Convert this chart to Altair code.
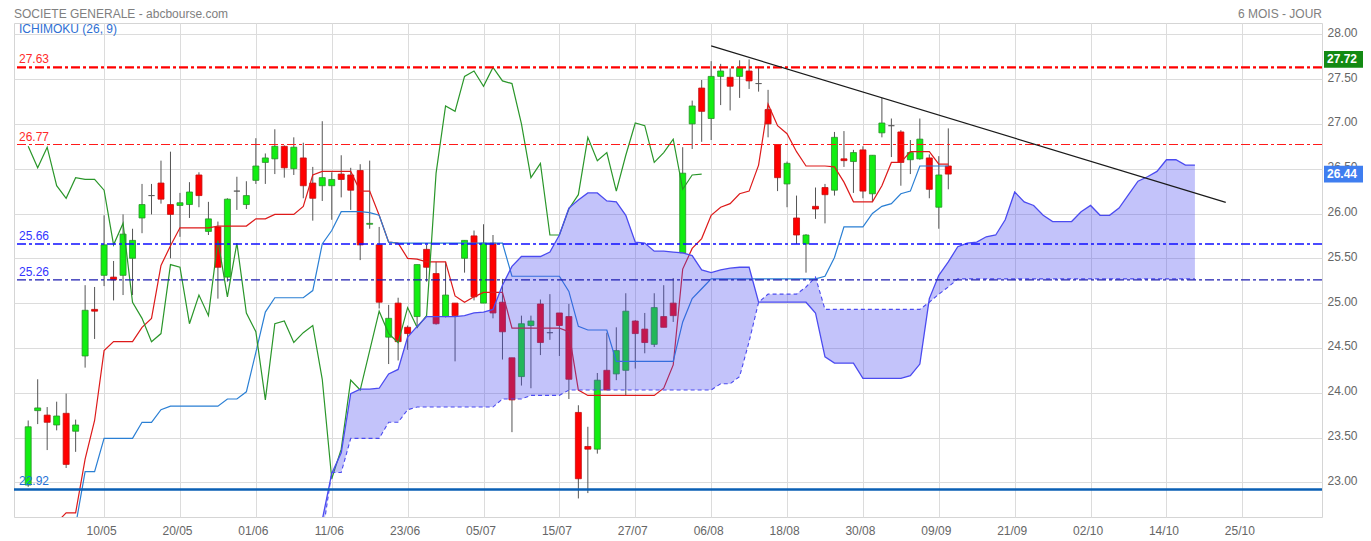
import altair as alt
import pandas as pd

# ---------------- data ----------------
# trading-day index 0..97 (first candle ~28/04, last 10/09)
opens = [22.97, 23.80, 23.75, 23.64, 23.77, 23.57, 24.41, 24.93, 25.31, 25.29,
         25.31, 25.50, 25.95, 26.20, 26.34, 26.10, 26.09, 26.10, 26.43, 25.80,
         25.85, 25.29, 26.25, 26.10, 26.37, 26.57, 26.61, 26.75, 26.50, 26.62,
         26.34, 26.31, 26.31, 26.44, 26.43, 26.48, 25.88, 25.65, 24.62, 25.00,
         24.73, 24.85, 25.60, 25.33, 24.85, 25.00, 25.50, 25.75, 25.00, 25.67,
         25.01, 24.39, 24.18, 24.75, 24.99, 24.67, 24.89, 24.85, 23.78, 23.40,
         23.37, 24.25, 24.21, 24.25, 24.80, 24.71, 24.54, 24.85, 25.00, 25.56,
         27.00, 27.40, 27.06, 27.53, 27.52, 27.53, 27.59, 27.45, 27.16, 26.77,
         26.33, 25.95, 25.66, 26.08, 26.29, 26.26, 26.61, 26.58, 26.71, 26.22,
         26.90, 26.98, 26.91, 26.60, 26.61, 26.62, 26.07, 26.53]
highs = [23.69, 24.15, 23.84, 23.90, 23.99, 23.70, 25.20, 25.18, 25.98, 25.47,
         25.99, 25.83, 26.33, 26.33, 26.59, 26.69, 26.23, 26.35, 26.46, 26.13,
         25.91, 26.17, 26.41, 26.36, 26.84, 26.67, 26.94, 26.76, 26.85, 26.79,
         26.52, 27.03, 26.46, 26.65, 26.51, 26.55, 26.59, 25.85, 24.98, 25.06,
         24.75, 25.43, 25.65, 25.46, 25.46, 25.00, 25.70, 25.81, 25.88, 25.76,
         25.27, 24.39, 24.86, 24.86, 25.04, 25.10, 24.89, 24.99, 23.86, 23.62,
         24.22, 24.67, 24.73, 25.11, 24.81, 24.89, 25.11, 25.20, 25.28, 26.74,
         27.26, 27.49, 27.70, 27.67, 27.62, 27.71, 27.72, 27.64, 27.38, 26.77,
         26.58, 26.20, 25.77, 26.29, 26.33, 26.91, 26.92, 26.71, 26.75, 26.65,
         27.29, 27.06, 26.93, 26.82, 27.06, 26.66, 26.64, 26.95]
lows = [22.95, 23.65, 23.36, 23.58, 23.16, 23.34, 24.28, 24.60, 25.19, 25.03,
        25.09, 25.09, 25.78, 25.99, 26.11, 25.50, 25.74, 25.95, 26.07, 25.76,
        25.05, 25.24, 26.04, 26.05, 26.33, 26.33, 26.44, 26.40, 26.43, 26.17,
        25.92, 26.14, 25.93, 26.18, 26.04, 25.48, 25.83, 24.94, 24.32, 24.36,
        24.48, 24.72, 25.24, 24.76, 24.84, 24.35, 25.34, 25.03, 25.00, 24.83,
        24.37, 23.56, 24.08, 24.05, 24.42, 24.59, 24.41, 23.93, 22.82, 22.88,
        23.32, 24.03, 24.14, 23.97, 24.27, 24.44, 24.51, 24.73, 24.79, 25.56,
        26.72, 26.80, 26.82, 27.21, 27.15, 27.29, 27.39, 27.36, 26.85, 26.25,
        26.07, 25.66, 25.34, 25.94, 25.89, 26.20, 26.52, 26.23, 26.17, 26.13,
        26.85, 26.63, 26.31, 26.44, 26.60, 26.17, 25.83, 26.27]
closes = [23.62, 23.83, 23.67, 23.74, 23.20, 23.64, 24.92, 24.91, 25.65, 25.26,
          25.77, 25.70, 26.10, 26.20, 26.16, 25.99, 26.12, 26.24, 26.20, 25.94,
          25.40, 26.16, 26.25, 26.20, 26.53, 26.62, 26.75, 26.51, 26.74, 26.31,
          26.17, 26.40, 26.38, 26.38, 26.26, 25.65, 25.89, 25.01, 24.83, 24.57,
          24.66, 25.43, 25.40, 24.77, 25.09, 24.86, 25.70, 25.07, 25.67, 24.89,
          24.68, 23.92, 24.77, 24.80, 24.56, 24.67, 24.75, 24.15, 23.04, 23.37,
          24.14, 24.03, 24.47, 24.91, 24.66, 24.56, 24.95, 24.73, 24.86, 26.45,
          27.20, 27.14, 27.53, 27.59, 27.42, 27.63, 27.48, 27.45, 27.00, 26.40,
          26.56, 25.76, 25.76, 26.05, 26.21, 26.85, 26.59, 26.68, 26.25, 26.65,
          27.01, 26.98, 26.57, 26.68, 26.83, 26.27, 26.43, 26.44]

tenkan = [22.40, 22.45, 22.50, 22.55, 22.66, 22.66, 23.26, 23.69, 24.47, 24.57,
          24.57, 24.57, 24.73, 24.83, 25.42, 25.64, 25.84, 25.84, 25.84, 25.84,
          25.86, 25.86, 25.86, 25.86, 25.94, 25.94, 25.99, 25.99, 25.99, 26.08,
          26.43, 26.47, 26.47, 26.47, 26.47, 26.25, 26.25, 25.98, 25.68, 25.67,
          25.50, 25.49, 25.46, 25.46, 25.46, 25.08, 25.01, 25.07, 25.12, 25.12,
          25.12, 24.72, 24.72, 24.72, 24.72, 24.72, 24.72, 24.68, 24.03, 23.97,
          23.97, 23.97, 23.97, 23.97, 23.97, 23.97, 23.97, 24.05, 24.31, 25.38,
          25.61, 25.72, 25.98, 26.07, 26.11, 26.22, 26.25, 26.54, 27.22, 26.98,
          26.89, 26.69, 26.53, 26.53, 26.53, 26.52, 26.35, 26.13, 26.13, 26.13,
          26.31, 26.57, 26.57, 26.69, 26.69, 26.69, 26.55, 26.55]
kijun = [22.30, 22.30, 22.30, 22.35, 22.42, 22.52, 23.12, 23.12, 23.49, 23.49,
         23.49, 23.49, 23.67, 23.67, 23.81, 23.85, 23.85, 23.85, 23.85, 23.85,
         23.85, 23.93, 23.93, 24.01, 24.45, 24.90, 25.06, 25.06, 25.06, 25.06,
         25.14, 25.66, 25.81, 26.02, 26.02, 26.02, 26.01, 25.98, 25.68, 25.67,
         25.67, 25.67, 25.67, 25.67, 25.67, 25.67, 25.67, 25.67, 25.67, 25.67,
         25.67, 25.30, 25.30, 25.30, 25.30, 25.30, 25.30, 25.13, 24.74, 24.70,
         24.70, 24.70, 24.35, 24.35, 24.35, 24.35, 24.35, 24.35, 24.35, 24.79,
         25.05, 25.16, 25.27, 25.27, 25.27, 25.27, 25.27, 25.27, 25.27, 25.27,
         25.27, 25.27, 25.27, 25.27, 25.30, 25.51, 25.85, 25.85, 25.85, 26.00,
         26.08, 26.11, 26.22, 26.25, 26.53, 26.53, 26.53, 26.53]

CLOUD_START = 30  # first index of the senkou arrays
senkou_a = [22.30, 22.58, 23.10, 23.33, 23.99, 24.04, 24.04, 24.05, 24.21, 24.26,
            24.62, 24.74, 24.85, 24.85, 24.85, 24.85, 24.86, 24.89, 24.90, 24.93,
            25.20, 25.41, 25.52, 25.52, 25.52, 25.57, 25.76, 26.06, 26.15, 26.23,
            26.23, 26.14, 26.13, 25.98, 25.68, 25.67, 25.58, 25.58, 25.57, 25.56,
            25.53, 25.37, 25.34, 25.37, 25.39, 25.40, 25.40, 25.01, 25.01, 25.01,
            25.01, 25.01, 25.01, 24.89, 24.40, 24.33, 24.33, 24.33, 24.16, 24.16,
            24.16, 24.16, 24.16, 24.19, 24.32, 25.05, 25.31, 25.46, 25.63, 25.67,
            25.68, 25.74, 25.76, 25.93, 26.24, 26.13, 26.09, 25.98, 25.91, 25.91,
            25.91, 26.02, 26.09, 25.98, 25.98, 26.06, 26.21, 26.36, 26.41, 26.47,
            26.60, 26.60, 26.54, 26.54]
senkou_b = [22.30, 22.40, 23.11, 23.11, 23.49, 23.49, 23.49, 23.49, 23.67, 23.67,
            23.81, 23.84, 23.84, 23.84, 23.84, 23.84, 23.84, 23.84, 23.84, 23.84,
            23.93, 23.93, 23.93, 23.97, 23.97, 23.97, 23.97, 24.03, 24.03, 24.03,
            24.03, 24.03, 24.03, 24.03, 24.03, 24.03, 24.03, 24.03, 24.03, 24.03,
            24.03, 24.03, 24.03, 24.10, 24.10, 24.18, 24.57, 25.01, 25.10, 25.10,
            25.10, 25.10, 25.18, 25.29, 24.93, 24.93, 24.93, 24.93, 24.93, 24.93,
            24.93, 24.93, 24.93, 24.93, 24.93, 25.01, 25.10, 25.18, 25.27, 25.27,
            25.27, 25.27, 25.27, 25.27, 25.27, 25.27, 25.27, 25.27, 25.27, 25.27,
            25.27, 25.27, 25.27, 25.27, 25.27, 25.27, 25.27, 25.27, 25.27, 25.27,
            25.27, 25.27, 25.27, 25.27]

date_ticks = [8, 16, 24, 32, 40, 48, 56, 64, 72, 80, 88, 96, 104, 112, 120, 128]
date_labels = ["10/05", "20/05", "01/06", "11/06", "23/06", "05/07", "15/07", "27/07",
               "06/08", "18/08", "30/08", "09/09", "21/09", "02/10", "14/10", "25/10"]
price_ticks = [23.0, 23.5, 24.0, 24.5, 25.0, 25.5, 26.0, 26.5, 27.0, 27.5, 28.0]

levels = [27.63, 26.77, 25.66, 25.26, 22.92]
level_labels = ["27.63", "26.77", "25.66", "25.26", "22.92"]

trend_i = [72.0, 126.25]
trend_v = [27.87, 26.125]

badge_values = [27.72, 26.44]
badge_labels = ["27.72", "26.44"]

title_left = "SOCIETE GENERALE - abcbourse.com"
title_right = "6 MOIS - JOUR"
indicator_label = "ICHIMOKU (26, 9)"

# ---------------- styles ----------------
level_colors = ["#ff0000", "#ff1a1a", "#0f0fff", "#1c1cb0", "#0a5fb4"]
level_widths = [2.2, 1.2, 1.6, 1.2, 2.6]
level_dashes = [[9, 3, 3, 3], [9, 3, 3, 3], [9, 3, 3, 3], [9, 3, 3, 3], None]
label_colors = ["#ff2a2a", "#ff2a2a", "#3434ff", "#3434ff", "#1f72d6"]
badge_colors = ["#138a13", "#3f7ef0"]
FONT = "Liberation Sans"

# ---------------- frames ----------------
N = len(closes)
idx = list(range(N))
candles = pd.DataFrame({"i": idx, "o": opens, "h": highs, "l": lows, "c": closes})
candles["dir"] = ["flat" if abs(o - c) < 0.005 else ("up" if c > o else "down")
                  for o, c in zip(opens, closes)]
ichi = pd.DataFrame({"i": idx, "tenkan": tenkan, "kijun": kijun})
chikou = pd.DataFrame({"i": idx[:N - 26], "v": closes[26:]})
cloud = pd.DataFrame({"i": list(range(CLOUD_START, CLOUD_START + len(senkou_a))),
                      "a": senkou_a, "b": senkou_b})
trend = pd.DataFrame({"i": trend_i, "v": trend_v})
lev = pd.DataFrame({"v": levels, "t": level_labels, "col": label_colors})
badges = pd.DataFrame({"v": badge_values, "t": badge_labels, "col": badge_colors})

xs = alt.Scale(domain=[-0.97, 135.87], nice=False, zero=False)
ys = alt.Scale(domain=[22.613, 28.126], nice=False, zero=False)

label_expr = "[" + ",".join("'%s'" % s for s in date_labels) + "][round(datum.value/8)-1]"
x_axis = alt.Axis(values=date_ticks, labelExpr=label_expr, grid=True, gridColor="#dcdcdc",
                  gridWidth=1, ticks=False, domain=False, labelColor="#666666",
                  labelFont=FONT, labelFontSize=12, labelPadding=8, labelOffset=-3,
                  title=None)
y_axis = alt.Axis(orient="right", values=price_ticks, format=".2f", grid=True,
                  gridColor="#dcdcdc", gridWidth=1, ticks=False, domain=False,
                  labelColor="#666666", labelFont=FONT, labelFontSize=12,
                  labelPadding=5, labelBaseline="middle", labelOffset=-2, title=None,
                  zindex=0)


def X(f):
    return alt.X(f, scale=xs, axis=x_axis)


def Y(f):
    return alt.Y(f, scale=ys, axis=y_axis)


wicks = alt.Chart(candles).mark_rule(color="#555555", strokeWidth=1, clip=True).encode(
    x=X("i:Q"), y=Y("l:Q"), y2="h:Q")

bodies = alt.Chart(candles).mark_bar(size=6, strokeWidth=0.8, clip=True).encode(
    x=X("i:Q"), y=Y("o:Q"), y2="c:Q",
    fill=alt.Fill("dir:N", scale=alt.Scale(domain=["up", "down", "flat"],
                                           range=["#11ee11", "#ff0000", "#555555"]),
                  legend=None),
    stroke=alt.Stroke("dir:N", scale=alt.Scale(domain=["up", "down", "flat"],
                                               range=["#2b8f2b", "#c21010", "#555555"]),
                      legend=None))

tenkan_line = alt.Chart(ichi).mark_line(color="#dd1a1a", strokeWidth=1.2, clip=True).encode(
    x=X("i:Q"), y=Y("tenkan:Q"))
kijun_line = alt.Chart(ichi).mark_line(color="#2a7fd4", strokeWidth=1.2, clip=True).encode(
    x=X("i:Q"), y=Y("kijun:Q"))
chikou_line = alt.Chart(chikou).mark_line(color="#2a962a", strokeWidth=1.2, clip=True).encode(
    x=X("i:Q"), y=Y("v:Q"))

cloud_area = alt.Chart(cloud).mark_area(color="#4848f0", opacity=0.33, clip=True).encode(
    x=X("i:Q"), y=Y("a:Q"), y2="b:Q")
span_a = alt.Chart(cloud).mark_line(color="#4b4bf0", strokeWidth=1.3, clip=True).encode(
    x=X("i:Q"), y=Y("a:Q"))
span_b = alt.Chart(cloud).mark_line(color="#4b4bf0", strokeWidth=1.1, strokeDash=[4, 3],
                                    clip=True).encode(x=X("i:Q"), y=Y("b:Q"))

level_rules = []
for k, lv in enumerate(levels):
    kw = dict(color=level_colors[k], strokeWidth=level_widths[k])
    if level_dashes[k]:
        kw["strokeDash"] = level_dashes[k]
    level_rules.append(
        alt.Chart(pd.DataFrame({"v": [lv]})).mark_rule(**kw).encode(y=Y("v:Q")))

trend_line = alt.Chart(trend).mark_line(color="#1a1a1a", strokeWidth=1.2).encode(
    x=X("i:Q"), y=Y("v:Q"))

level_text = alt.Chart(lev).mark_text(align="left", baseline="alphabetic", dy=-4,
                                      font=FONT, fontSize=12).encode(
    x=alt.value(5), y=Y("v:Q"), text="t:N", color=alt.Color("col:N", scale=None))

badge_box = alt.Chart(badges).transform_calculate(
    lo="datum.v - 0.094", hi="datum.v + 0.094").mark_rect().encode(
    x=alt.value(1310), x2=alt.value(1349), y=Y("lo:Q"), y2="hi:Q",
    color=alt.Color("col:N", scale=None))
badge_text = alt.Chart(badges).mark_text(align="left", baseline="middle", font=FONT,
                                         fontSize=12, fontWeight="bold",
                                         color="white").encode(
    x=alt.value(1313), y=Y("v:Q"), text="t:N")

t_left = alt.Chart(pd.DataFrame({"t": [title_left]})).mark_text(
    align="left", baseline="middle", font=FONT, fontSize=12, color="#808080").encode(
    x=alt.value(0), y=alt.value(-9), text="t:N")
t_right = alt.Chart(pd.DataFrame({"t": [title_right]})).mark_text(
    align="right", baseline="middle", font=FONT, fontSize=12, color="#808080").encode(
    x=alt.value(1308), y=alt.value(-9), text="t:N")
t_ind = alt.Chart(pd.DataFrame({"t": [indicator_label]})).mark_text(
    align="left", baseline="middle", font=FONT, fontSize=12, color="#2e6fd3").encode(
    x=alt.value(5), y=alt.value(6), text="t:N")

chart = alt.layer(
    wicks, bodies, tenkan_line, kijun_line, chikou_line,
    cloud_area, span_a, span_b, *level_rules, trend_line,
    level_text, badge_box, badge_text, t_left, t_right, t_ind
).properties(
    width=1308, height=494,
    padding={"left": 6, "top": 15, "right": 41, "bottom": 24},
    autosize=alt.AutoSizeParams(type="none"),
    background="white",
).configure_view(stroke="#d5d5d5", strokeWidth=1)

chart.save("out.html", embed_options={"renderer": "svg", "actions": False})
